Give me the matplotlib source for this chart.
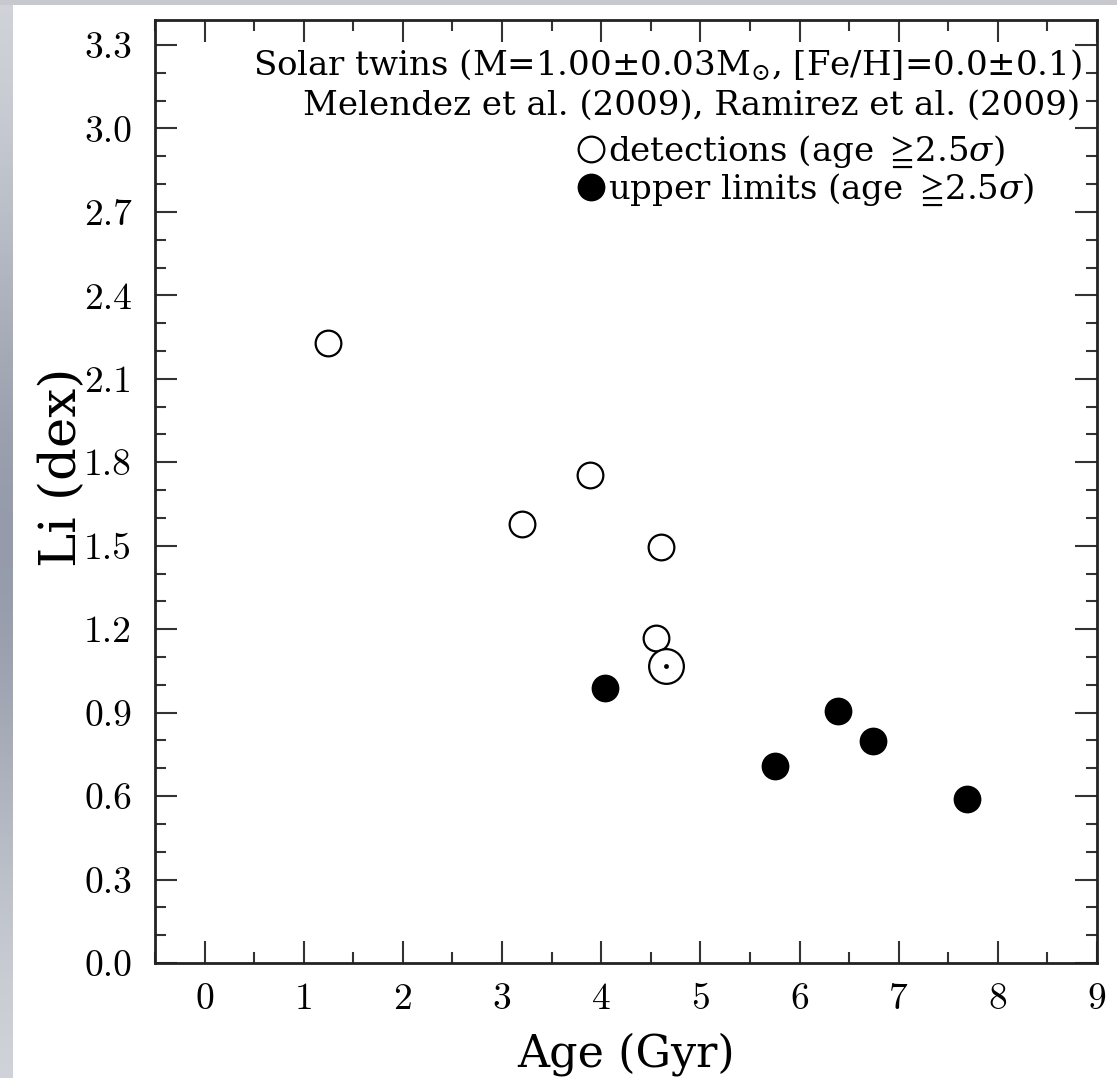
import numpy as np
import matplotlib
matplotlib.use("Agg")
import matplotlib.pyplot as plt
from matplotlib.ticker import MultipleLocator, FormatStrFormatter
from matplotlib.lines import Line2D

plt.rcParams["font.family"] = ["cmr10", "DejaVu Serif"]
plt.rcParams["mathtext.fontset"] = "dejavuserif"
plt.rcParams["mathtext.fallback"] = "stix"
plt.rcParams["axes.unicode_minus"] = False

SERIF = ["DejaVu Serif", "DejaVu Sans"]

# Solar twins: Li abundance vs. stellar age
det_age = [1.24, 3.20, 3.89, 4.60, 4.55]
det_li = [2.23, 1.577, 1.753, 1.497, 1.17]
lim_age = [4.04, 5.75, 6.39, 6.74, 7.69]
lim_li = [0.99, 0.709, 0.907, 0.799, 0.590]
sun_age = [4.65]
sun_li = [1.069]

W, H = 1117, 1078
fig = plt.figure(figsize=(W / 100, H / 100), dpi=100)
fig.patch.set_facecolor("white")

# grey frame strips along the left and top edges
grad = np.linspace(0, 1, 256)
shade = 1 - 0.75 * np.exp(-((grad - 0.5) / 0.33) ** 2)
c_light = np.array([0.84, 0.85, 0.87])
c_dark = np.array([0.50, 0.53, 0.60])
strip = c_dark[None, :] + (c_light - c_dark)[None, :] * shade[:, None]
ax_l = fig.add_axes([0, 0, 12 / W, 1])
ax_l.imshow(strip[:, None, :], aspect="auto", extent=[0, 1, 0, 1])
ax_l.set_axis_off()
ax_t = fig.add_axes([0, 1 - 5 / H, 1, 5 / H])
ax_t.set_facecolor((0.78, 0.79, 0.81))
ax_t.set_xticks([]); ax_t.set_yticks([])
for s in ax_t.spines.values():
    s.set_visible(False)

L, R, B, T = 155, 1097, 963, 20
ax = fig.add_axes([L / W, (H - B) / H, (R - L) / W, (B - T) / H])
ax.set_xlim(-0.5, 9)
ax.set_ylim(0, 3.39)

for s in ax.spines.values():
    s.set_linewidth(2.0)
    s.set_color("#222222")

ax.xaxis.set_major_locator(MultipleLocator(1))
ax.xaxis.set_minor_locator(MultipleLocator(0.5))
ax.yaxis.set_major_locator(MultipleLocator(0.3))
ax.yaxis.set_minor_locator(MultipleLocator(0.1))
ax.yaxis.set_major_formatter(FormatStrFormatter("%.1f"))
ax.xaxis.set_major_formatter(FormatStrFormatter("%d"))
ax.tick_params(which="both", direction="in", top=True, right=True,
               color="#333333", labelsize=27)
ax.tick_params(which="major", length=16, width=1.5)
ax.tick_params(which="minor", length=8, width=1.5)
ax.tick_params(axis="x", which="major", pad=14)
ax.tick_params(axis="y", which="major", pad=16.5)

ax.plot(det_age, det_li, "o", ms=18.5, mfc="white", mec="black", mew=1.6,
        zorder=3)
ax.plot(lim_age, lim_li, "o", ms=20, mfc="black", mec="black", mew=0,
        zorder=3)
ax.plot(sun_age, sun_li, "o", ms=25, mfc="white", mec="black", mew=1.6,
        zorder=4)
ax.plot(sun_age, sun_li, "o", ms=3.5, mfc="black", mec="black", mew=0,
        zorder=5)

ax.set_xlabel("Age (Gyr)", fontsize=32, va="baseline", family=SERIF)
ax.xaxis.set_label_coords(0.5, (B - 1066) / (B - T))
ax.set_ylabel("Li (dex)", fontsize=37, va="baseline", family=SERIF)
ax.yaxis.set_label_coords((76 - L) / (R - L), (B - 467) / (B - T))

ax.text((1082 - L) / (R - L), (B - 75) / (B - T),
        "Solar twins (M=1.00±0.03M$_{\\odot}$, [Fe/H]=0.0±0.1)",
        transform=ax.transAxes, ha="right", va="baseline", fontsize=24.5,
        family=SERIF)
ax.text((1080 - L) / (R - L), (B - 115) / (B - T),
        "Melendez et al. (2009), Ramirez et al. (2009)",
        transform=ax.transAxes, ha="right", va="baseline", fontsize=24.5,
        family=SERIF)

handles = [
    Line2D([], [], ls="none", marker="o", ms=18.5, mfc="white", mec="black",
           mew=1.6),
    Line2D([], [], ls="none", marker="o", ms=20, mfc="black", mec="black",
           mew=0),
]
labels = ["detections (age $\\geqq\\!$2.5$\\sigma$)",
          "upper limits (age $\\geqq\\!$2.5$\\sigma$)"]
ax.legend(handles, labels, loc="upper left",
          bbox_to_anchor=((578 - L) / (R - L), (B - 134) / (B - T)),
          frameon=False, prop={"family": SERIF, "size": 24.5},
          handlelength=0.75, handletextpad=0.12,
          borderpad=0, borderaxespad=0, labelspacing=0.05)

fig.savefig("out.png", dpi=100)
